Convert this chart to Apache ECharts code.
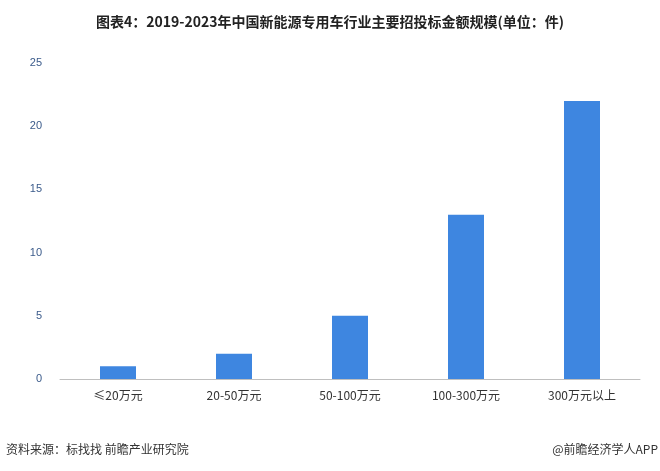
<!DOCTYPE html>
<html><head><meta charset="utf-8">
<script src="https://cdn.jsdelivr.net/npm/echarts@6/dist/echarts.min.js"></script>
<style>html,body{margin:0;padding:0;background:#fff}#c{width:660px;height:471px}</style>
</head><body><div id="c"></div>
<script>
const categories = ['≤20万元','20-50万元','50-100万元','100-300万元','300万元以上'];
const values = [1, 2, 5, 13, 22];
const yTicks = [0, 5, 10, 15, 20, 25];
const chart = echarts.init(document.getElementById('c'));
chart.setOption({
  animation:false,
  title:{text:'图表4：2019-2023年中国新能源专用车行业主要招投标金额规模(单位：件)',left:'center',top:10,
    textStyle:{fontSize:14,fontWeight:'bold',color:'#222',fontFamily:'Noto Sans CJK SC'}},
  grid:{left:60,right:20,top:63,bottom:92},
  xAxis:{type:'category',data:categories,
    axisLine:{lineStyle:{color:'#bfbfbf'}},axisTick:{show:false},
    axisLabel:{color:'#333',fontSize:12,margin:10,fontFamily:'Noto Sans CJK SC'}},
  yAxis:{type:'value',min:yTicks[0],max:yTicks[yTicks.length-1],interval:5,
    splitLine:{show:false},axisLine:{show:false},axisTick:{show:false},
    axisLabel:{color:'#3a5a8a',fontSize:11,margin:18}},
  series:[{type:'bar',data:values,barWidth:36,itemStyle:{color:'#3e86e0'}}],
  graphic:[
    {type:'text',left:6,top:443,style:{text:'资料来源：标找找 前瞻产业研究院',fontSize:12,fill:'#333',fontFamily:'Noto Sans CJK SC'}},
    {type:'text',right:2,top:443,style:{text:'@前瞻经济学人APP',fontSize:12,fill:'#333',fontFamily:'Noto Sans CJK SC'}}
  ]
});
</script></body></html>
